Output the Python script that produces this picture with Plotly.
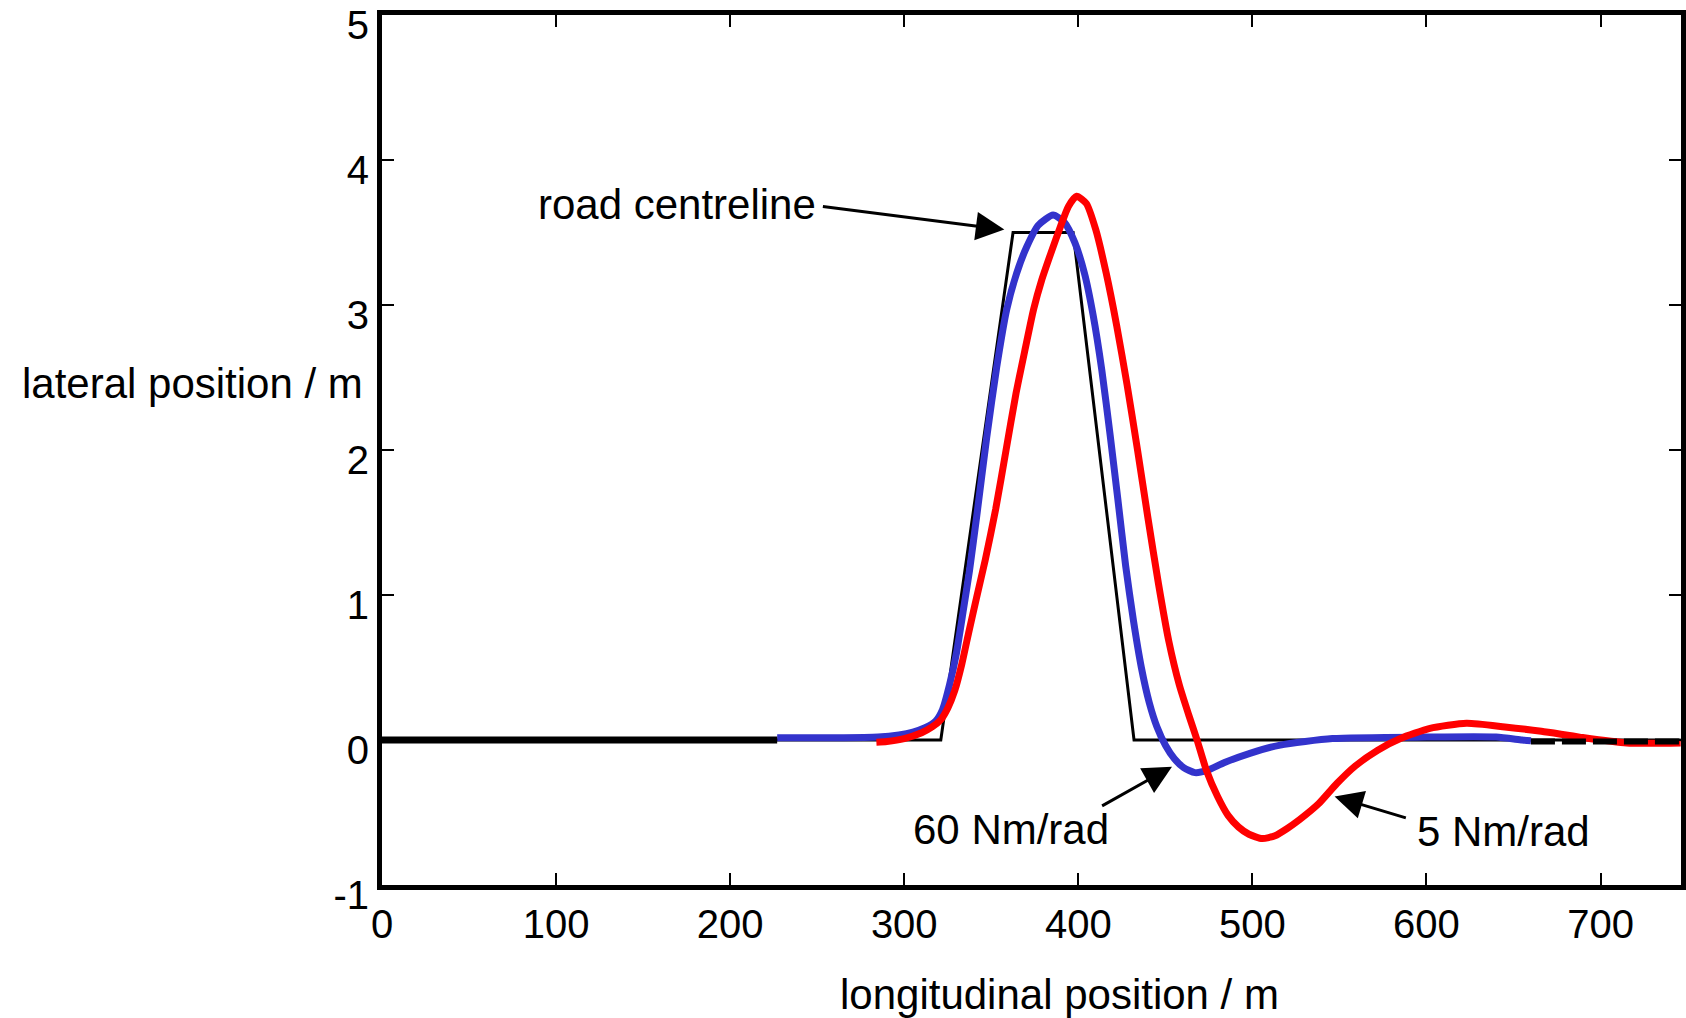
import plotly.graph_objects as go

# ---- data ----
road_x = [0, 321, 362.5, 397, 432, 746]
road_y = [0, 0, 3.5, 3.5, 0, 0]

stiff60_x = [227, 260, 285, 297, 305, 312, 318, 322, 326, 330, 334, 337.5, 341.7, 347.4, 353.1,
             358.9, 364.6, 370.3, 377, 385.5, 392, 398, 403.5, 408.5, 413.5, 418.3, 422.8, 427.2,
             431.7, 436.2, 440.7, 445.2, 450.2, 455.2, 460.5, 467, 474, 484, 499, 516, 546, 600, 640, 655, 660]
stiff60_y = [0.015, 0.015, 0.02, 0.035, 0.055, 0.085, 0.13, 0.21, 0.38, 0.6, 0.9, 1.17, 1.55, 2.09, 2.57,
             2.97, 3.22, 3.40, 3.55, 3.62, 3.57, 3.43, 3.22, 2.93, 2.55, 2.1, 1.65, 1.2,
             0.82, 0.5, 0.26, 0.09, -0.04, -0.13, -0.19, -0.225, -0.21, -0.155, -0.09, -0.035, 0.01, 0.02, 0.02, 0.0, -0.005]

stiff5_x = [284, 290, 300, 310, 316, 321, 325, 329, 333, 337, 341.5, 346.5, 352.5, 358.5, 364.2, 369.7,
            374.3, 378.9, 384.3, 389.7, 394.3, 399, 404.6, 410, 416, 422, 428, 434, 440, 446,
            452, 458, 463.5, 468.2, 473.6, 480, 486, 492, 498, 505.7, 513, 520, 527, 538, 548.5, 559, 572,
            585, 602, 623, 645, 666, 688, 715, 746]
stiff5_y = [-0.015, -0.01, 0.01, 0.05, 0.09, 0.14, 0.22, 0.34, 0.52, 0.74, 0.98, 1.24, 1.59, 2.0, 2.39, 2.71,
            2.97, 3.17, 3.36, 3.54, 3.68, 3.75, 3.70, 3.52, 3.22, 2.86, 2.45, 2.0, 1.53, 1.08,
            0.68, 0.38, 0.17, 0.0, -0.21, -0.39, -0.52, -0.6, -0.65, -0.68, -0.66, -0.61, -0.55, -0.44, -0.3, -0.18, -0.07,
            0.01, 0.08, 0.115, 0.09, 0.06, 0.02, -0.02, -0.02]

base_left_x = [0, 227]
base_left_y = [0, 0]
base_right_x = [660, 746]
base_right_y = [-0.01, -0.01]

x_ticks = [0, 100, 200, 300, 400, 500, 600, 700]
y_ticks = [-1, 0, 1, 2, 3, 4, 5]

FONT = "Liberation Sans, Arial, Helvetica, sans-serif"

fig = go.Figure()
fig.add_trace(go.Scatter(x=road_x, y=road_y, mode="lines",
                         line=dict(color="black", width=3), hoverinfo="skip"))
fig.add_trace(go.Scatter(x=stiff60_x, y=stiff60_y, mode="lines",
                         line=dict(color="#3333cc", width=7, shape="spline", smoothing=0.6)))
fig.add_trace(go.Scatter(x=stiff5_x, y=stiff5_y, mode="lines",
                         line=dict(color="#ff0000", width=7, shape="spline", smoothing=0.6)))
fig.add_trace(go.Scatter(x=base_left_x, y=base_left_y, mode="lines",
                         line=dict(color="black", width=7)))
fig.add_trace(go.Scatter(x=base_right_x, y=base_right_y, mode="lines",
                         line=dict(color="black", width=6, dash="24px,7px")))

axis_common = dict(showgrid=False, zeroline=False, showline=True, linecolor="black", linewidth=5,
                   ticks="inside", ticklen=12, tickwidth=1.5, tickcolor="black", mirror="ticks",
                   ticklabeloverflow="allow",
                   tickfont=dict(family=FONT, size=40, color="black"))

fig.update_xaxes(range=[0, 746.2], tickvals=x_ticks, ticktext=[str(v) for v in x_ticks],
                 ticklabelstandoff=0, **axis_common)
fig.update_yaxes(range=[-1, 5], tickvals=y_ticks, ticktext=[str(v) for v in y_ticks],
                 ticklabelshift=10, ticklabelstandoff=0, **axis_common)

afont = dict(family=FONT, size=42, color="black")
annotations = [
    # axis titles
    dict(text="lateral position / m", xref="paper", x=-0.013, xanchor="right",
         yref="y", y=2.46, yanchor="middle", showarrow=False, font=afont),
    dict(text="longitudinal position / m", xref="x", x=389.4, xanchor="center",
         yref="paper", y=-0.1264, yanchor="middle", showarrow=False, font=afont),
    # labels
    dict(text="road centreline", xref="x", x=250.5, xanchor="right", yref="y", y=3.69,
         yanchor="middle", showarrow=False, font=afont),
    dict(text="60 Nm/rad", xref="x", x=361.4, xanchor="center", yref="y", y=-0.614,
         yanchor="middle", showarrow=False, font=afont),
    dict(text="5 Nm/rad", xref="x", x=644.2, xanchor="center", yref="y", y=-0.628,
         yanchor="middle", showarrow=False, font=afont),
    # arrows
    dict(text="", xref="x", yref="y", x=357.5, y=3.52, axref="x", ayref="y", ax=252.4, ay=3.68,
         showarrow=True, arrowhead=2, arrowsize=1.9, arrowwidth=3, arrowcolor="black", standoff=0),
    dict(text="", xref="x", yref="y", x=453.8, y=-0.184, axref="x", ayref="y", ax=412.8, ay=-0.46,
         showarrow=True, arrowhead=2, arrowsize=1.9, arrowwidth=3, arrowcolor="black", standoff=0),
    dict(text="", xref="x", yref="y", x=547.2, y=-0.39, axref="x", ayref="y", ax=589.0, ay=-0.54,
         showarrow=True, arrowhead=2, arrowsize=1.9, arrowwidth=3, arrowcolor="black", standoff=0),
]

fig.update_layout(width=1686, height=1018, autosize=False,
                  margin=dict(l=382, r=0, t=15, b=133, pad=0),
                  paper_bgcolor="white", plot_bgcolor="white",
                  showlegend=False, annotations=annotations,
                  font=dict(family=FONT, size=40, color="black"))

fig.write_html("out.html")
